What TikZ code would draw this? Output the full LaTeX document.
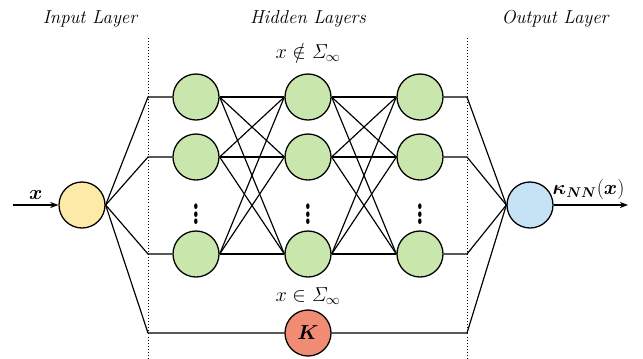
\documentclass[tikz,border=0pt]{standalone}
\usepackage{amsmath,amssymb,bm,graphicx}
\usetikzlibrary{arrows.meta}
\definecolor{inyellow}{HTML}{FDE9A8}
\definecolor{hidgreen}{HTML}{C9E7AC}
\definecolor{outblue}{HTML}{C6E3F5}
\definecolor{kred}{HTML}{F08C74}
\tikzset{
  neuron/.style={draw, circle, line width=1.1pt, minimum size=1.38cm, inner sep=0pt},
  layertitle/.style={font=\fontsize{16}{19}\selectfont\itshape},
  wire/.style={line width=1pt},
  moredots/.style={font=\huge},
}
\newcommand{\tallvdots}{\scalebox{1}[1.6]{$\bm{\vdots}$}}
\begin{document}
\begin{tikzpicture}[x=0.03cm,y=-0.03cm]
\useasboundingbox (0,0) rectangle (643,358);
\node[layertitle] (tin) at (90,19) {Input Layer};
\node[layertitle] (thid) at (308,19) {Hidden Layers};
\node[layertitle] (tout) at (555,19) {Output Layer};
\draw[dotted, line width=0.6pt] (148,38) -- (148,358);
\draw[dotted, line width=0.6pt] (467,38) -- (467,358);
\node[font=\LARGE] (cnot) at (308,52) {$x \notin \mathit{\Sigma}_\infty$};
\node[font=\LARGE] (cin) at (308,296) {$x \in \mathit{\Sigma}_\infty$};
\node[neuron, fill=inyellow] (in) at (82,205) {};
\node[neuron, fill=hidgreen] (a1) at (196,97) {};
\node[neuron, fill=hidgreen] (a2) at (196,157) {};
\node[neuron, fill=hidgreen] (a3) at (196,254) {};
\node[neuron, fill=hidgreen] (b1) at (308,97) {};
\node[neuron, fill=hidgreen] (b2) at (308,157) {};
\node[neuron, fill=hidgreen] (b3) at (308,254) {};
\node[neuron, fill=hidgreen] (c1) at (420,97) {};
\node[neuron, fill=hidgreen] (c2) at (420,157) {};
\node[neuron, fill=hidgreen] (c3) at (420,254) {};
\node[moredots] (da) at (196,209) {\tallvdots};
\node[moredots] (db) at (308,209) {\tallvdots};
\node[moredots] (dc) at (420,209) {\tallvdots};
\node[neuron, fill=kred, font=\LARGE] (k) at (308,333) {$\bm{K}$};
\node[neuron, fill=outblue] (out) at (530,205) {};
\coordinate (src) at (13,205);
\coordinate (dst) at (628,205);
\coordinate (p1) at (148,97);
\coordinate (p2) at (148,157);
\coordinate (p3) at (148,254);
\coordinate (p4) at (148,333);
\coordinate (q1) at (467,97);
\coordinate (q2) at (467,157);
\coordinate (q3) at (467,254);
\coordinate (q4) at (467,333);
\draw[wire, -{Stealth[length=7pt]}] (src) -- node[above=1pt, font=\LARGE] {$\bm{x}$} (in);
\draw[wire, -{Stealth[length=7pt]}] (out) -- node[above=1pt, pos=0.47, font=\LARGE] {$\bm{\kappa}_{\bm{NN}}(\bm{x})$} (dst);
\draw[wire] (in.east) -- (p1) -- (a1);
\draw[wire] (in.east) -- (p2) -- (a2);
\draw[wire] (in.east) -- (p3) -- (a3);
\draw[wire] (in.east) -- (p4) -- (k);
\draw[wire] (a1.east) -- (b1.west);
\draw[wire] (a1.east) -- (b2.west);
\draw[wire] (a1.east) -- (b3.west);
\draw[wire] (a2.east) -- (b1.west);
\draw[wire] (a2.east) -- (b2.west);
\draw[wire] (a2.east) -- (b3.west);
\draw[wire] (a3.east) -- (b1.west);
\draw[wire] (a3.east) -- (b2.west);
\draw[wire] (a3.east) -- (b3.west);
\draw[wire] (b1.east) -- (c1.west);
\draw[wire] (b1.east) -- (c2.west);
\draw[wire] (b1.east) -- (c3.west);
\draw[wire] (b2.east) -- (c1.west);
\draw[wire] (b2.east) -- (c2.west);
\draw[wire] (b2.east) -- (c3.west);
\draw[wire] (b3.east) -- (c1.west);
\draw[wire] (b3.east) -- (c2.west);
\draw[wire] (b3.east) -- (c3.west);
\draw[wire] (c1) -- (q1) -- (out.west);
\draw[wire] (c2) -- (q2) -- (out.west);
\draw[wire] (c3) -- (q3) -- (out.west);
\draw[wire] (k) -- (q4) -- (out.west);
\end{tikzpicture}
\end{document}
